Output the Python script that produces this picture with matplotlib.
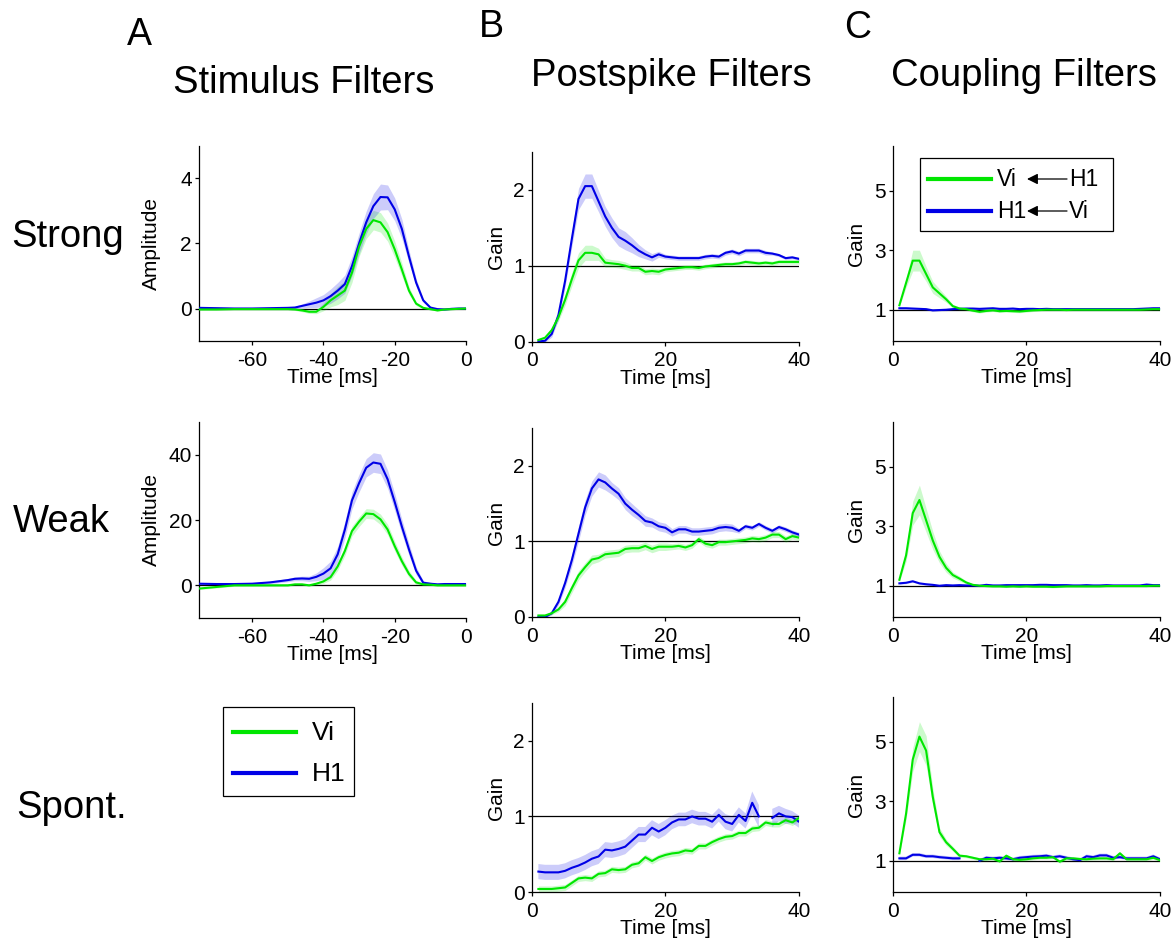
import numpy as np
import matplotlib.pyplot as plt
from matplotlib.lines import Line2D
from matplotlib.patches import Rectangle

plt.rcParams['font.family'] = ['Liberation Sans', 'DejaVu Sans']
plt.rcParams['axes.unicode_minus'] = False

W, H = 1174, 943
GREEN = '#00e600'
BLUE = '#0000e6'
nan = np.nan

# ---- stimulus filters (time before spike, ms) ----
stim_t = [-75, -70, -65, -60, -55, -50, -48, -46, -44, -42, -40, -38, -36, -34, -32,
          -30, -28, -26, -24, -22, -20, -18, -16, -14, -12, -10, -8, -6, -4, -2, 0]

stim_strong_vi = [-0.03, -0.03, -0.02, -0.02, -0.02, -0.02, -0.03, -0.06, -0.1, -0.1, 0.05,
                  0.25, 0.4, 0.55, 1.1, 1.9, 2.45, 2.72, 2.65, 2.35, 1.82, 1.2, 0.55, 0.15,
                  0.02, -0.02, -0.06, -0.03, -0.02, -0.01, 0.0]
stim_strong_vi_se = [0.02, 0.02, 0.02, 0.02, 0.02, 0.02, 0.03, 0.04, 0.05, 0.06, 0.12, 0.2,
                     0.28, 0.3, 0.3, 0.3, 0.3, 0.3, 0.3, 0.28, 0.25, 0.2, 0.12, 0.06, 0.03,
                     0.02, 0.02, 0.02, 0.02, 0.02, 0.02]
stim_strong_h1 = [0.02, 0.01, 0.0, 0.0, 0.01, 0.02, 0.03, 0.08, 0.13, 0.18, 0.25, 0.38, 0.55,
                  0.75, 1.3, 2.0, 2.65, 3.15, 3.43, 3.42, 3.05, 2.45, 1.6, 0.8, 0.25, 0.03,
                  -0.02, -0.03, -0.01, 0.0, 0.0]
stim_strong_h1_se = [0.02, 0.02, 0.02, 0.02, 0.02, 0.03, 0.04, 0.06, 0.1, 0.15, 0.18, 0.22,
                     0.25, 0.28, 0.3, 0.32, 0.35, 0.38, 0.4, 0.38, 0.35, 0.3, 0.2, 0.12, 0.06,
                     0.03, 0.02, 0.02, 0.02, 0.02, 0.02]

stim_weak_vi = [-1.0, -0.5, 0.0, 0.0, 0.0, 0.0, 0.3, 0.3, 0.0, 0.5, 1.2, 2.5, 5.8, 10.5, 16.6,
                19.5, 22.0, 21.8, 20.2, 17.1, 12.0, 7.4, 3.5, 0.9, 0.3, 0.2, 0.0, 0.0, 0.0,
                0.0, 0.0]
stim_weak_vi_se = [0.3, 0.3, 0.3, 0.3, 0.3, 0.3, 0.3, 0.3, 0.3, 0.4, 0.6, 0.9, 1.2, 1.4, 1.5,
                   1.5, 1.5, 1.5, 1.6, 1.6, 1.5, 1.3, 1.0, 0.6, 0.3, 0.3, 0.3, 0.3, 0.3, 0.3,
                   0.3]
stim_weak_h1 = [0.5, 0.4, 0.4, 0.5, 0.9, 1.6, 2.0, 2.1, 2.0, 2.6, 3.6, 5.2, 9.5, 17.0, 26.0,
                31.3, 36.0, 37.6, 37.2, 32.5, 25.5, 18.0, 11.0, 4.5, 0.8, 0.5, 0.3, 0.4, 0.4,
                0.4, 0.4]
stim_weak_h1_se = [0.3, 0.3, 0.3, 0.3, 0.4, 0.5, 0.6, 0.7, 0.8, 1.2, 1.8, 2.2, 2.4, 2.5, 2.6,
                   2.7, 2.8, 3.0, 3.0, 2.8, 2.6, 2.2, 1.8, 1.2, 0.6, 0.4, 0.3, 0.3, 0.3, 0.3,
                   0.3]

# ---- postspike and coupling filters (lag after spike, ms) ----
lag_ms = list(range(1, 41))

ps_strong_vi = [0.02, 0.05, 0.15, 0.32, 0.55, 0.82, 1.07, 1.17, 1.17, 1.15,
                1.04, 1.03, 1.02, 1.0, 0.97, 0.97, 0.92, 0.93, 0.92, 0.95,
                0.96, 0.97, 0.98, 0.98, 0.97, 0.99, 1.0, 1.01, 1.02, 1.02,
                1.03, 1.05, 1.04, 1.03, 1.04, 1.03, 1.05, 1.05, 1.05, 1.05]
ps_strong_vi_se = [0.01, 0.02, 0.03, 0.05, 0.07, 0.09, 0.1, 0.1, 0.1, 0.08,
                   0.06, 0.05, 0.05, 0.05, 0.04, 0.04, 0.04, 0.04, 0.04, 0.03,
                   0.03, 0.03, 0.03, 0.03, 0.03, 0.03, 0.03, 0.03, 0.03, 0.03,
                   0.03, 0.03, 0.03, 0.03, 0.03, 0.03, 0.03, 0.03, 0.03, 0.03]
ps_strong_h1 = [0.0, 0.01, 0.1, 0.35, 0.8, 1.35, 1.88, 2.05, 2.05, 1.85,
                1.65, 1.5, 1.38, 1.33, 1.27, 1.2, 1.15, 1.11, 1.15, 1.12,
                1.11, 1.1, 1.1, 1.1, 1.1, 1.12, 1.13, 1.12, 1.17, 1.19,
                1.16, 1.2, 1.2, 1.2, 1.17, 1.16, 1.14, 1.1, 1.11, 1.09]
ps_strong_h1_se = [0.01, 0.02, 0.04, 0.06, 0.08, 0.1, 0.14, 0.16, 0.16, 0.14,
                   0.13, 0.13, 0.12, 0.12, 0.1, 0.08, 0.06, 0.05, 0.04, 0.03,
                   0.03, 0.03, 0.03, 0.03, 0.03, 0.03, 0.03, 0.03, 0.03, 0.03,
                   0.03, 0.03, 0.03, 0.03, 0.03, 0.02, 0.02, 0.02, 0.02, 0.02]

ps_weak_vi = [0.02, 0.02, 0.05, 0.1, 0.2, 0.38, 0.55, 0.66, 0.76, 0.78,
              0.83, 0.84, 0.85, 0.9, 0.91, 0.91, 0.94, 0.9, 0.93, 0.93,
              0.93, 0.94, 0.92, 0.95, 1.03, 0.97, 0.95, 0.99, 0.99, 1.0,
              1.01, 1.02, 1.04, 1.03, 1.05, 1.09, 1.09, 1.03, 1.07, 1.05]
ps_weak_vi_se = [0.01, 0.01, 0.02, 0.03, 0.05, 0.06, 0.06, 0.06, 0.06, 0.05,
                 0.05, 0.05, 0.05, 0.05, 0.05, 0.05, 0.05, 0.05, 0.05, 0.05,
                 0.04, 0.04, 0.04, 0.04, 0.04, 0.04, 0.04, 0.04, 0.04, 0.04,
                 0.04, 0.04, 0.04, 0.04, 0.04, 0.04, 0.04, 0.04, 0.04, 0.04]
ps_weak_h1 = [0.0, 0.0, 0.05, 0.2, 0.45, 0.75, 1.1, 1.45, 1.7, 1.82,
              1.78, 1.7, 1.63, 1.5, 1.42, 1.35, 1.27, 1.25, 1.2, 1.18,
              1.12, 1.16, 1.16, 1.13, 1.13, 1.14, 1.15, 1.18, 1.19, 1.18,
              1.14, 1.2, 1.18, 1.23, 1.18, 1.14, 1.19, 1.16, 1.12, 1.09]
ps_weak_h1_se = [0.01, 0.01, 0.02, 0.04, 0.06, 0.08, 0.1, 0.1, 0.1, 0.1,
                 0.1, 0.08, 0.08, 0.08, 0.08, 0.07, 0.07, 0.06, 0.06, 0.06,
                 0.05, 0.05, 0.05, 0.05, 0.05, 0.05, 0.05, 0.05, 0.05, 0.05,
                 0.03, 0.03, 0.03, 0.03, 0.03, 0.03, 0.03, 0.03, 0.03, 0.03]

ps_spont_vi = [0.04, 0.04, 0.04, 0.05, 0.06, 0.12, 0.18, 0.19, 0.18, 0.24,
               0.25, 0.3, 0.29, 0.3, 0.36, 0.38, 0.46, 0.41, 0.46, 0.49,
               0.51, 0.52, 0.55, 0.54, 0.61, 0.61, 0.66, 0.7, 0.73, 0.74,
               0.78, 0.78, 0.84, 0.85, 0.92, 0.9, 0.9, 0.95, 0.92, 0.98]
ps_spont_vi_se = [0.04, 0.04, 0.04, 0.04, 0.04, 0.04, 0.04, 0.04, 0.04, 0.04,
                  0.04, 0.04, 0.04, 0.04, 0.04, 0.04, 0.04, 0.04, 0.04, 0.04,
                  0.04, 0.04, 0.04, 0.04, 0.04, 0.04, 0.04, 0.04, 0.04, 0.04,
                  0.04, 0.04, 0.04, 0.04, 0.04, 0.04, 0.04, 0.04, 0.04, 0.04]
ps_spont_h1 = [0.27, 0.26, 0.26, 0.26, 0.28, 0.32, 0.35, 0.39, 0.44, 0.47,
               0.56, 0.55, 0.57, 0.6, 0.68, 0.76, 0.76, 0.85, 0.8, 0.85,
               0.92, 0.96, 0.96, 1.0, 0.97, 0.97, 0.93, 1.02, 0.93, 0.9,
               1.02, 0.94, 1.18, 1.0, nan, 0.98, 1.04, 1.0, 0.99, 0.93]
ps_spont_h1_se = [0.1, 0.1, 0.1, 0.1, 0.1, 0.1, 0.1, 0.1, 0.1, 0.1,
                  0.1, 0.1, 0.1, 0.1, 0.1, 0.1, 0.1, 0.1, 0.1, 0.1,
                  0.09, 0.09, 0.09, 0.09, 0.09, 0.09, 0.09, 0.09, 0.1, 0.1,
                  0.1, 0.1, 0.15, 0.15, 0.12, 0.12, 0.1, 0.1, 0.08, 0.08]

cp_strong_vi = [1.15, 1.9, 2.65, 2.65, 2.2, 1.75, 1.55, 1.35, 1.12, 1.04,
                1.02, 0.97, 0.93, 0.96, 0.98, 0.95, 0.96, 0.95, 0.94, 0.96,
                0.98, 0.99, 1.0, 1.0, 1.0, 0.99, 1.0, 1.0, 1.0, 1.0,
                1.0, 1.0, 1.0, 1.0, 1.0, 1.0, 1.0, 1.01, 1.02, 1.02]
cp_strong_vi_se = [0.05, 0.15, 0.35, 0.35, 0.25, 0.2, 0.15, 0.1, 0.06, 0.05,
                   0.04, 0.04, 0.04, 0.04, 0.04, 0.04, 0.04, 0.04, 0.04, 0.04,
                   0.04, 0.04, 0.04, 0.04, 0.04, 0.04, 0.04, 0.04, 0.04, 0.04,
                   0.04, 0.04, 0.04, 0.04, 0.04, 0.04, 0.04, 0.04, 0.04, 0.04]
cp_strong_h1 = [1.05, 1.05, 1.04, 1.03, 1.02, 0.98, 0.99, 1.0, 1.02, 1.03,
                1.04, 1.04, 1.03, 1.04, 1.05, 1.03, 1.03, 1.04, 1.02, 1.03,
                1.03, 1.02, 1.03, 1.02, 1.02, 1.02, 1.02, 1.02, 1.02, 1.02,
                1.02, 1.02, 1.02, 1.02, 1.02, 1.02, 1.03, 1.04, 1.05, 1.05]
cp_strong_h1_se = [0.03, 0.03, 0.03, 0.03, 0.03, 0.03, 0.03, 0.03, 0.03, 0.03,
                   0.03, 0.03, 0.03, 0.03, 0.03, 0.03, 0.03, 0.03, 0.03, 0.03,
                   0.03, 0.03, 0.03, 0.03, 0.03, 0.03, 0.03, 0.03, 0.03, 0.03,
                   0.03, 0.03, 0.03, 0.03, 0.03, 0.03, 0.03, 0.03, 0.03, 0.03]

cp_weak_vi = [1.2, 2.02, 3.44, 3.88, 3.2, 2.52, 1.97, 1.6, 1.36, 1.24,
              1.11, 1.03, 1.0, 0.99, 0.98, 0.98, 0.97, 0.98, 0.97, 0.98,
              0.97, 0.97, 0.97, 0.96, 0.97, 0.98, 0.98, 0.98, 0.98, 0.98,
              0.98, 0.99, 0.99, 0.99, 0.99, 0.99, 0.99, 0.99, 1.0, 1.0]
cp_weak_vi_se = [0.05, 0.2, 0.4, 0.5, 0.4, 0.3, 0.2, 0.15, 0.1, 0.08,
                 0.05, 0.03, 0.03, 0.03, 0.03, 0.03, 0.03, 0.03, 0.03, 0.03,
                 0.03, 0.03, 0.03, 0.03, 0.03, 0.03, 0.03, 0.03, 0.03, 0.03,
                 0.03, 0.03, 0.03, 0.03, 0.03, 0.03, 0.03, 0.03, 0.03, 0.03]
cp_weak_h1 = [1.08, 1.1, 1.15, 1.08, 1.05, 1.03, 1.0, 1.02, 1.01, 1.02,
              1.01, 1.01, 1.0, 1.03, 1.01, 1.01, 1.02, 1.02, 1.02, 1.02,
              1.02, 1.03, 1.03, 1.02, 1.02, 1.02, 1.01, 1.01, 1.02, 1.01,
              1.01, 1.02, 1.01, 1.01, 1.01, 1.01, 1.01, 1.04, 1.02, 1.02]
cp_weak_h1_se = [0.03, 0.03, 0.03, 0.03, 0.03, 0.03, 0.03, 0.03, 0.03, 0.03,
                 0.03, 0.03, 0.03, 0.03, 0.03, 0.03, 0.03, 0.03, 0.03, 0.03,
                 0.03, 0.03, 0.03, 0.03, 0.03, 0.03, 0.03, 0.03, 0.03, 0.03,
                 0.03, 0.03, 0.03, 0.03, 0.03, 0.03, 0.03, 0.03, 0.03, 0.03]

cp_spont_vi = [1.25, 2.58, 4.4, 5.17, 4.7, 3.14, 1.96, 1.62, 1.4, 1.17,
               1.15, 1.1, 1.05, 1.05, 1.07, 0.98, 1.17, 1.05, 1.03, 1.05,
               1.08, 1.1, 1.1, 1.12, 0.97, 1.08, 1.08, 1.06, 1.05, 1.07,
               1.08, 1.08, 1.05, 1.25, 1.05, 1.05, 1.05, 1.05, 1.1, 1.02]
cp_spont_vi_se = [0.05, 0.2, 0.4, 0.5, 0.5, 0.3, 0.15, 0.1, 0.08, 0.06,
                  0.05, 0.05, 0.05, 0.05, 0.05, 0.05, 0.05, 0.05, 0.05, 0.05,
                  0.05, 0.05, 0.05, 0.05, 0.05, 0.05, 0.05, 0.05, 0.05, 0.05,
                  0.05, 0.05, 0.05, 0.05, 0.05, 0.05, 0.05, 0.05, 0.05, 0.05]
cp_spont_h1 = [1.08, 1.08, 1.2, 1.2, 1.15, 1.15, 1.12, 1.1, 1.08, 1.08,
               nan, nan, 1.0, 1.1, 1.08, 1.1, 1.08, 1.05, 1.1, 1.12,
               1.14, 1.15, 1.17, 1.12, 1.15, 1.1, 1.05, 1.02, 1.15, 1.12,
               1.18, 1.18, 1.1, 1.12, 1.08, 1.08, 1.08, 1.08, 1.15, 1.05]
cp_spont_h1_se = [0.06, 0.06, 0.06, 0.06, 0.06, 0.06, 0.06, 0.06, 0.06, 0.06,
                  0.06, 0.06, 0.06, 0.06, 0.06, 0.06, 0.06, 0.06, 0.06, 0.06,
                  0.06, 0.06, 0.06, 0.06, 0.06, 0.06, 0.06, 0.06, 0.06, 0.06,
                  0.06, 0.06, 0.06, 0.06, 0.06, 0.06, 0.06, 0.06, 0.06, 0.06]

row_names = ['Strong', 'Weak', 'Spont.']
col_titles = ['Stimulus Filters', 'Postspike Filters', 'Coupling Filters']
col_letters = ['A', 'B', 'C']
cell_names = ['Vi', 'H1']

fig = plt.figure(figsize=(W / 100, H / 100), dpi=100)


def add_axes_px(left, top, right, bottom):
    return fig.add_axes([left / W, 1 - bottom / H, (right - left) / W, (bottom - top) / H])


def fig_xy(x, y):
    return x / W, 1 - y / H


def draw_panel(ax, t, vi, vi_se, h1, h1_se, base, xlim, ylim, xticks, yticks,
               ylabel, ylab_x, height_px):
    t = np.asarray(t)
    vi, vi_se = np.asarray(vi), np.asarray(vi_se)
    h1, h1_se = np.asarray(h1), np.asarray(h1_se)
    ax.axhline(base, color='k', lw=0.9, zorder=1)
    ax.fill_between(t, vi - vi_se, vi + vi_se, color=GREEN, alpha=0.2, lw=0, zorder=2)
    ax.fill_between(t, h1 - h1_se, h1 + h1_se, color=BLUE, alpha=0.2, lw=0, zorder=2)
    ax.plot(t, h1, color=BLUE, lw=1.5, zorder=3)
    ax.plot(t, vi, color=GREEN, lw=1.5, zorder=4)
    ax.set_xlim(*xlim)
    ax.set_ylim(*ylim)
    ax.set_xticks(xticks)
    ax.set_yticks(yticks)
    for s in ('top', 'right'):
        ax.spines[s].set_visible(False)
    for s in ('left', 'bottom'):
        ax.spines[s].set_linewidth(0.9)
    ax.tick_params(direction='out', length=3, width=0.9, labelsize=15, pad=2)
    ax.tick_params(axis='x', pad=4)
    ax.set_xlabel('Time [ms]', fontsize=15)
    ax.xaxis.set_label_coords(0.5, -27 / height_px)
    ax.set_ylabel(ylabel, fontsize=15)
    ax.yaxis.set_label_coords(ylab_x, 0.5)


# column A: stimulus filters
ax = add_axes_px(198.7, 146, 466, 341)
draw_panel(ax, stim_t, stim_strong_vi, stim_strong_vi_se, stim_strong_h1, stim_strong_h1_se,
           0, (-75, 0), (-1, 5), [-60, -40, -20, 0], [0, 2, 4], 'Amplitude', -0.14, 195)
ax = add_axes_px(198.7, 422, 466, 618)
draw_panel(ax, stim_t, stim_weak_vi, stim_weak_vi_se, stim_weak_h1, stim_weak_h1_se,
           0, (-75, 0), (-10, 50), [-60, -40, -20, 0], [0, 20, 40], 'Amplitude', -0.14, 196)

# column B: postspike filters
ps_rows = [(152, 341.5, ps_strong_vi, ps_strong_vi_se, ps_strong_h1, ps_strong_h1_se),
           (428, 617, ps_weak_vi, ps_weak_vi_se, ps_weak_h1, ps_weak_h1_se),
           (703, 892, ps_spont_vi, ps_spont_vi_se, ps_spont_h1, ps_spont_h1_se)]
for top, bottom, vi, vi_se, h1, h1_se in ps_rows:
    ax = add_axes_px(531.7, top, 799, bottom)
    draw_panel(ax, lag_ms, vi, vi_se, h1, h1_se, 1, (0, 40), (0, 2.5), [0, 20, 40],
               [0, 1, 2], 'Gain', -0.096, bottom - top)

# column C: coupling filters
cp_rows = [(146, 341, cp_strong_vi, cp_strong_vi_se, cp_strong_h1, cp_strong_h1_se),
           (422, 617, cp_weak_vi, cp_weak_vi_se, cp_weak_h1, cp_weak_h1_se),
           (697, 892, cp_spont_vi, cp_spont_vi_se, cp_spont_h1, cp_spont_h1_se)]
for top, bottom, vi, vi_se, h1, h1_se in cp_rows:
    ax = add_axes_px(892.7, top, 1160, bottom)
    draw_panel(ax, lag_ms, vi, vi_se, h1, h1_se, 1, (0, 40), (-0.05, 6.5), [0, 20, 40],
               [1, 3, 5], 'Gain', -0.1, bottom - top)

# column titles, panel letters and row names
for x, y, s in [(304, 93, col_titles[0]), (671, 86, col_titles[1]), (1024, 86, col_titles[2])]:
    fig.text(*fig_xy(x, y), s, fontsize=27.5, ha='center', va='baseline')
for x, y, s in [(139, 45, col_letters[0]), (491, 37, col_letters[1]), (858, 38, col_letters[2])]:
    fig.text(*fig_xy(x, y), s, fontsize=27, ha='center', va='baseline')
for x, y, s in [(11, 247, row_names[0]), (13, 532, row_names[1]), (16, 818, row_names[2])]:
    fig.text(*fig_xy(x, y), s, fontsize=27.5, ha='left', va='baseline')


def legend_box(left, top, right, bottom):
    fig.patches.append(Rectangle(fig_xy(left, bottom), (right - left) / W, (bottom - top) / H,
                                 transform=fig.transFigure, fill=False, edgecolor='k',
                                 lw=0.9, zorder=5))


def legend_line(x0, x1, y, color):
    fig.lines.append(Line2D([x0 / W, x1 / W], [1 - y / H] * 2, transform=fig.transFigure,
                            color=color, lw=3))


# legend for the two cells
legend_box(223, 707, 354, 796)
for y, color, name in [(732, GREEN, cell_names[0]), (773, BLUE, cell_names[1])]:
    legend_line(233, 296, y, color)
    fig.text(*fig_xy(312, y + 1), name, fontsize=19, ha='left', va='center')

# legend for coupling direction, with arrows between cell names
legend_box(920, 158, 1113, 231)
for y, color, left_name, right_name in [(179, GREEN, 'Vi', 'H1'), (211, BLUE, 'H1', 'Vi')]:
    legend_line(928, 991, y, color)
    fig.text(*fig_xy(997, y + 1), left_name, fontsize=16.5, ha='left', va='center')
    fig.text(*fig_xy(1069, y + 1), right_name, fontsize=16.5, ha='left', va='center')
    fig.add_artist(plt.Annotation('', xy=fig_xy(1027, y), xytext=fig_xy(1067, y),
                                  xycoords='figure fraction', textcoords='figure fraction',
                                  arrowprops=dict(arrowstyle='-|>', color='k', lw=0.9,
                                                  mutation_scale=16, shrinkA=0,
                                                  shrinkB=0)))

fig.savefig('out.png', dpi=100)
